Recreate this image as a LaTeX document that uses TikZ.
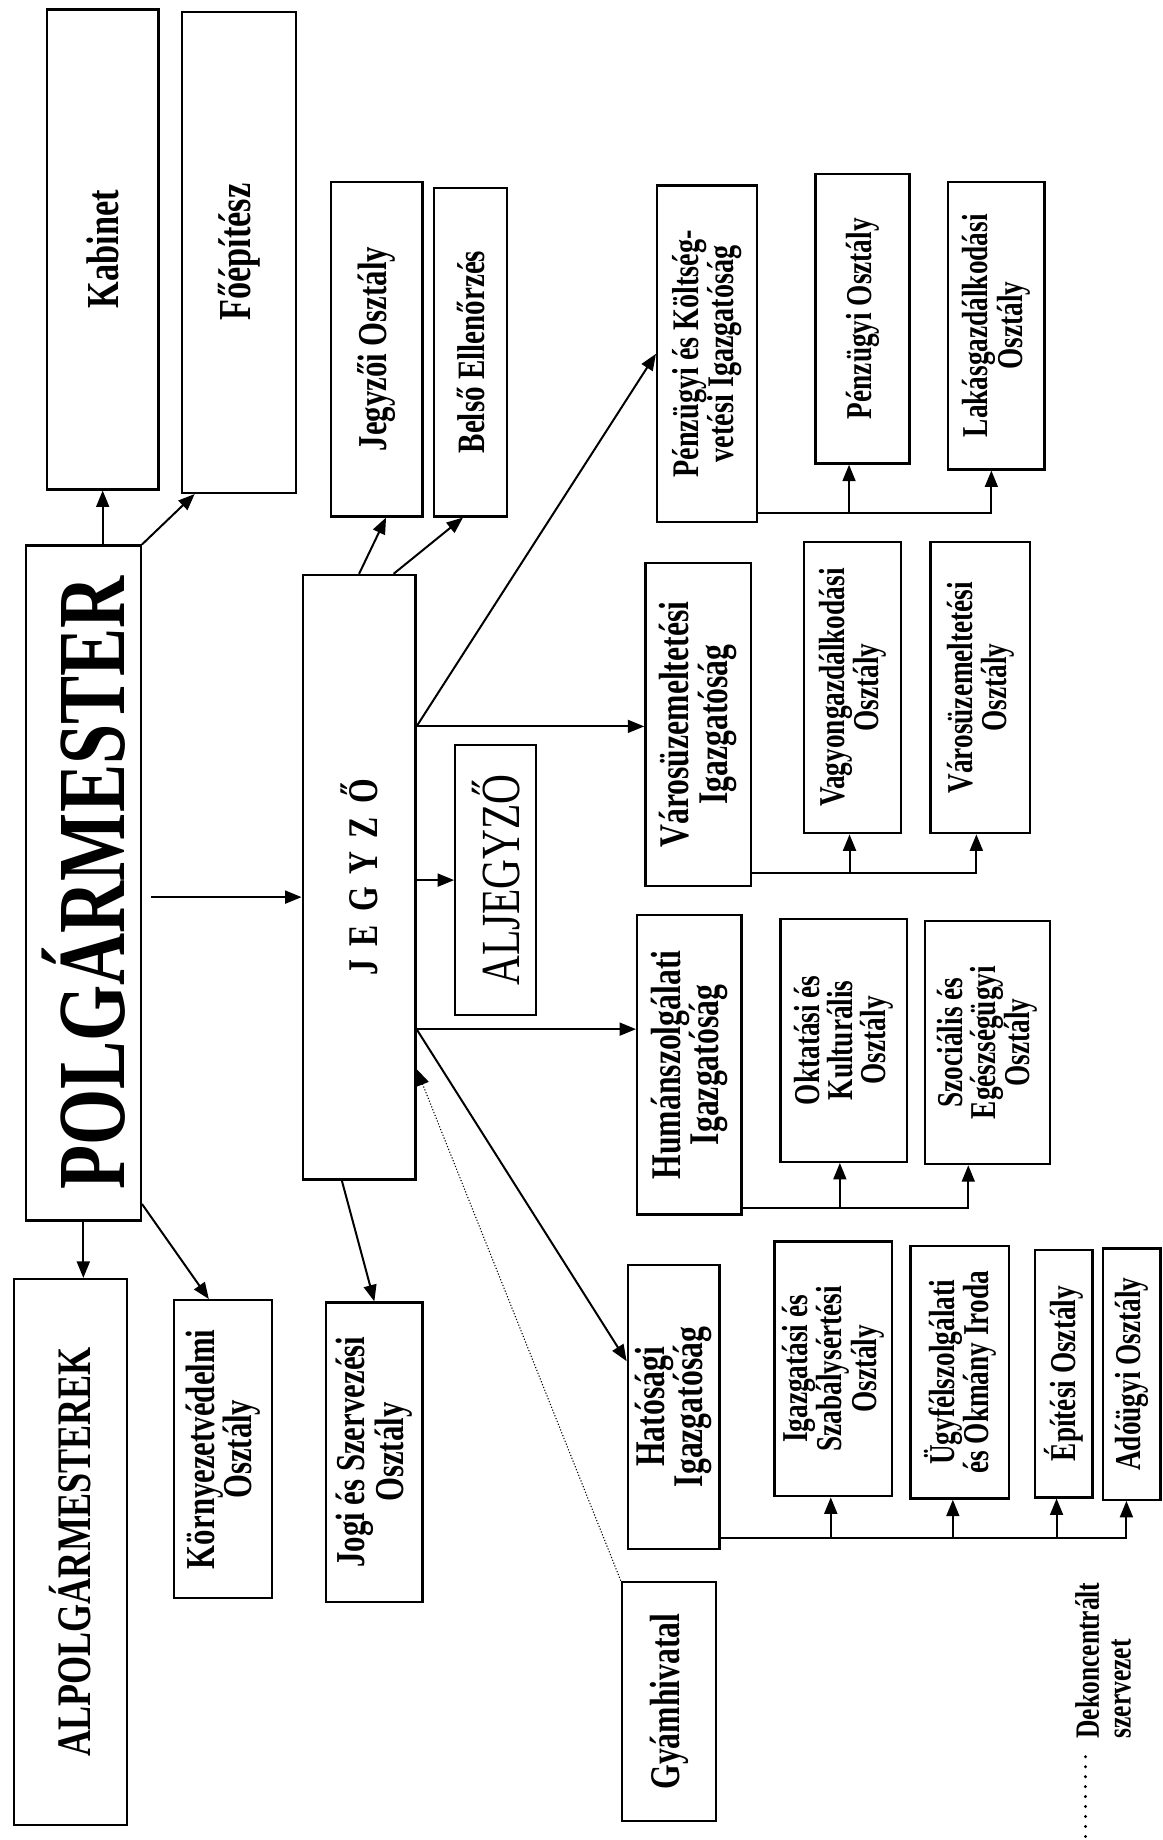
\documentclass[tikz,border=0pt]{standalone}
\usepackage{fontspec}
\setmainfont{Liberation Serif}
\usetikzlibrary{arrows.meta,calc,fit}
\tikzset{
  box/.style={draw, line width=2pt, inner sep=0pt, rectangle},
  lbl/.style={rotate=90, xscale=0.75, align=center, inner sep=0pt},
  fs/.style 2 args={font=\fontsize{#1}{#2}\selectfont\bfseries},
  conn/.style={line width=1.7pt},
  arr/.style={line width=1.7pt, -{Triangle[length=14pt,width=11pt]}},
  dotarr/.style={line width=0.9pt, dash pattern=on 1pt off 1.6pt, -{Triangle[length=14pt,width=11pt]}},
}
\newcommand{\bx}[6]{%
  \node[box, fit={#2 #3}] (#1) {};
  \node[lbl, fs={#4}{#5}] (#1-t) at (#1.center) {#6};}
\begin{document}
\begin{tikzpicture}[x=1pt,y=-1pt]
\useasboundingbox (0,0) rectangle (991,1568);
\fill[white] (0,0) rectangle (991,1568);

% left column
\bx{kab}{(40,8)}{(135,417)}{39}{37}{Kabinet}
\bx{fo}{(155,10)}{(252,420)}{39}{37}{Főépítész}
\bx{polg}{(22,465)}{(120,1040)}{82}{78}{POLGÁRMESTER}
\bx{alp}{(12,1090)}{(108,1555)}{41}{39}{ALPOLGÁRMESTEREK}
\bx{korny}{(148,1108)}{(232,1362)}{35}{32}{Környezetvédelmi\\Osztály}
\bx{jogi}{(278,1110)}{(360,1365)}{35}{32}{Jogi és Szervezési\\Osztály}

% jegyzo column
\bx{jo}{(282,155)}{(360,440)}{35}{33}{Jegyzői Osztály}
\bx{belso}{(370,160)}{(432,440)}{33}{31}{Belső Ellenőrzés}
\bx{jegyzo}{(258,490)}{(354,1005)}{36}{34}{J\hspace{15pt}E\hspace{15pt}G\hspace{15pt}Y\hspace{15pt}Z\hspace{15pt}Ő}
\bx{aljegyzo}{(388,635)}{(457,865)}{47}{44}{\mdseries ALJEGYZŐ}

% directorates
\bx{pkig}{(560,158)}{(645,445)}{32}{30}{Pénzügyi és Költség-\\vetési Igazgatóság}
\bx{vuig}{(550,480)}{(640,755)}{36}{33}{Városüzemeltetési\\Igazgatóság}
\bx{hum}{(543,780)}{(632,1035)}{36}{33}{Humánszolgálati\\Igazgatóság}
\bx{hat}{(535,1078)}{(613,1320)}{36}{33}{Hatósági\\Igazgatóság}
\bx{gyam}{(530,1348)}{(610,1552)}{36}{34}{Gyámhivatal}

% departments
\bx{po}{(695,148)}{(775,395)}{31}{29}{Pénzügyi Osztály}
\bx{lak}{(808,155)}{(890,400)}{31}{29}{Lakásgazdálkodási\\Osztály}
\bx{vagy}{(685,462)}{(768,710)}{31}{29}{Vagyongazdálkodási\\Osztály}
\bx{vuo}{(793,462)}{(878,710)}{31}{29}{Városüzemeltetési\\Osztály}
\bx{okt}{(665,783)}{(773,990)}{31}{28}{Oktatási és\\Kulturális\\Osztály}
\bx{szoc}{(788,785)}{(895,992)}{31}{28}{Szociális és\\Egészségügyi\\Osztály}
\bx{igsz}{(660,1058)}{(760,1275)}{31}{28}{Igazgatási és\\Szabálysértési\\Osztály}
\bx{ugyf}{(776,1062)}{(860,1277)}{31}{29}{Ügyfélszolgálati\\és Okmány Iroda}
\bx{epit}{(882,1065)}{(931,1276)}{31}{29}{Építési Osztály}
\bx{ado}{(940,1064)}{(989,1278)}{31}{29}{Adóügyi Osztály}

% legend
\node[rotate=90, xscale=0.75, align=left, inner sep=0pt, fs={29}{27}] (leg) at (940,1415) {Dekoncentrált\\szervezet};
\coordinate (d1) at (925,1497);
\coordinate (d2) at (925,1566);
\draw[line width=2.8pt, line cap=round, dash pattern=on 0pt off 8.5pt] (d1) -- (d2);

% polgarmester connectors
\draw[arr] (kab.south |- polg.north) -- (kab.south);
\draw[arr] (polg.north east) -- ($(fo.south west)!0.12!(fo.south east)$);
\coordinate (pj) at ([shift={(8,12)}]polg.east);
\draw[arr] (pj) -- (pj -| jegyzo.west);
\draw[arr] (polg.south) -- (polg.south |- alp.north);
\coordinate (pk) at ([yshift=15pt]polg.south east);
\draw[arr] (pk) -- ($(korny.north west)!0.36!(korny.north east)$);

% jegyzo connectors
\draw[arr] (jegyzo.north) -- ($(jo.south west)!0.6!(jo.south east)$);
\draw[arr] ($(jegyzo.north west)!0.8!(jegyzo.north east)$) -- ($(belso.south west)!0.4!(belso.south east)$);
\coordinate (jv) at ($(jegyzo.north east)+(0,130)$);
\draw[arr] (jv) -- (pkig.west);
\draw[arr] (jv) -- (jv -| vuig.west);
\draw[arr] (aljegyzo.west -| jegyzo.east) -- (aljegyzo.west);
\coordinate (jh) at ($(jegyzo.north east)+(0,388)$);
\draw[arr] (jh) -- (jh -| hum.west);
\draw[arr] (jh) -- ($(hat.north west)!0.34!(hat.south west)$);
\draw[arr] ($(jegyzo.south west)!0.35!(jegyzo.south east)$) -- ($(jogi.north west)!0.5!(jogi.north east)$);
\coordinate (jg) at ($(jegyzo.north east)+(0,422)$);
\draw[dotarr] (gyam.north west) -- (jg);

% buses
\coordinate (b1) at ($(pkig.south east)+(0,-9)$);
\coordinate (poA) at ($(po.south west)!0.36!(po.south east)$);
\coordinate (lakA) at ($(lak.south west)!0.45!(lak.south east)$);
\draw[arr] (b1) -- (b1 -| lakA) -- (lakA);
\draw[arr] (b1 -| poA) -- (poA);

\coordinate (b2) at ($(vuig.south east)+(0,-12)$);
\coordinate (vagyA) at ($(vagy.south west)!0.47!(vagy.south east)$);
\coordinate (vuoA) at ($(vuo.south west)!0.46!(vuo.south east)$);
\draw[arr] (b2) -- (b2 -| vuoA) -- (vuoA);
\draw[arr] (b2 -| vagyA) -- (vagyA);

\coordinate (b3) at ($(hum.south east)+(0,-7)$);
\coordinate (oktA) at ($(okt.south west)!0.47!(okt.south east)$);
\coordinate (szocA) at ($(szoc.south west)!0.35!(szoc.south east)$);
\draw[arr] (b3) -- (b3 -| szocA) -- (szocA);
\draw[arr] (b3 -| oktA) -- (oktA);

\coordinate (b4) at ($(hat.south east)+(0,-10)$);
\coordinate (igszA) at ($(igsz.south west)!0.48!(igsz.south east)$);
\coordinate (ugyfA) at ($(ugyf.south west)!0.43!(ugyf.south east)$);
\coordinate (epitA) at ($(epit.south west)!0.38!(epit.south east)$);
\coordinate (adoA) at ($(ado.south west)!0.41!(ado.south east)$);
\draw[arr] (b4) -- (b4 -| adoA) -- (adoA);
\draw[arr] (b4 -| igszA) -- (igszA);
\draw[arr] (b4 -| ugyfA) -- (ugyfA);
\draw[arr] (b4 -| epitA) -- (epitA);
\end{tikzpicture}
\end{document}
